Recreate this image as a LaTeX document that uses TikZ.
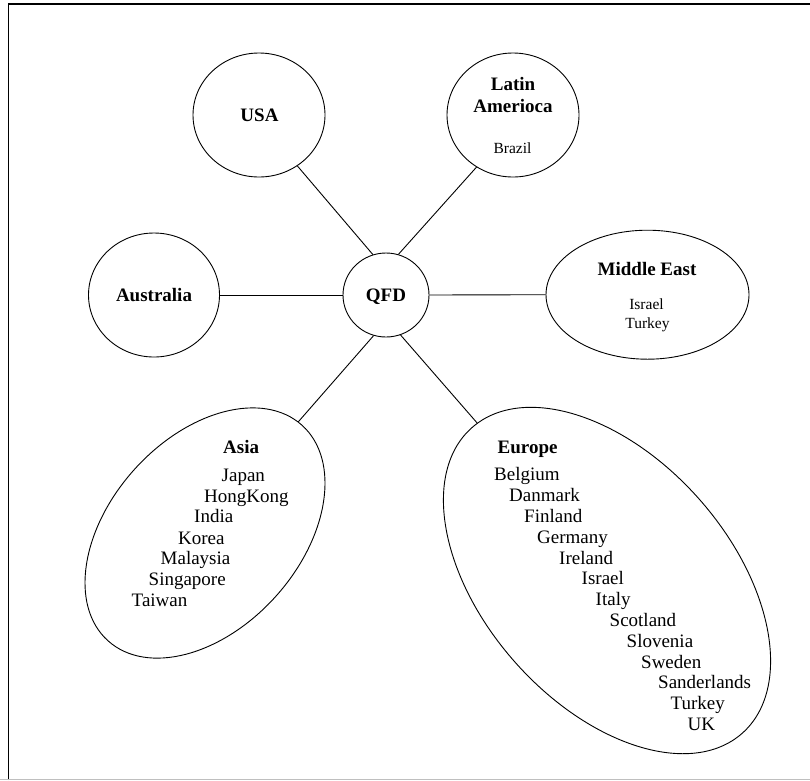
\documentclass[tikz,border=0pt]{standalone}
\usepackage{fontspec}
\setmainfont{Liberation Serif}
\usetikzlibrary{shapes.geometric}
\begin{document}
\begin{tikzpicture}[x=1pt,y=-1pt,
  region/.style={draw, ellipse, line width=0.9pt, inner sep=0pt},
  link/.style={draw, line width=0.9pt},
  head/.style={font=\fontsize{19}{21}\selectfont\bfseries, inner sep=0pt},
  item/.style={font=\fontsize{19}{21}\selectfont, inner sep=0pt, anchor=base west},
  minor/.style={font=\fontsize{15.5}{18}\selectfont, inner sep=0pt, anchor=base},
]
\useasboundingbox (0,0) rectangle (810,780);

% page frame
\draw[line width=1.5pt] (8.5,780) -- (8.5,4) -- (810,4);
\draw[black!25, line width=0.8pt] (0,779.4) -- (810,779.4);

% regions
\node[region, minimum width=86pt, minimum height=84pt] (qfd) at (386,295) {};
\node[region, minimum width=132pt, minimum height=124pt] (usa) at (259,115) {};
\node[region, minimum width=132pt, minimum height=124pt] (latin) at (513,115) {};
\node[region, minimum width=131pt, minimum height=124pt] (aus) at (154,295) {};
\node[region, minimum width=203pt, minimum height=129pt] (mideast) at (647.5,294.7) {};
\node[region, minimum width=290pt, minimum height=190pt, rotate=48] (asia) at (205,533) {};
\node[region, minimum width=408pt, minimum height=246pt, rotate=-48.5] (europe) at (607,580.5) {};

% connectors
\draw[link] (usa.-53.5) -- (qfd.108);
\draw[link] (latin.-125.8) -- (qfd.73.7);
\draw[link] (aus.east) -- (qfd.west);
\draw[link] (qfd.east) -- (mideast.west);
\draw[link] (qfd.-107) -- (asia.2);
\draw[link] (qfd.-70) -- (europe.178);

% labels
\node[head, anchor=base] (qfd-t) at (386,301) {QFD};
\node[head, anchor=base] (usa-t) at (259.5,121) {USA};
\node[head, anchor=base] (latin-t1) at (513,90) {Latin};
\node[head, anchor=base] (latin-t2) at (513,112.7) {Amerioca};
\node[minor] (brazil) at (512.5,153.3) {Brazil};
\node[head, anchor=base] (aus-t) at (154,301.5) {Australia};
\node[head, anchor=base] (me-t) at (647,275) {Middle East};
\node[minor] (me-israel) at (646.5,309.3) {Israel};
\node[minor] (me-turkey) at (647.5,328) {Turkey};

% Asia list
\node[head, anchor=base west] (asia-t) at (223,453.3) {Asia};
\node[item] (a1) at (221.5,481) {Japan};
\node[item] (a2) at (204,502.3) {HongKong};
\node[item] (a3) at (194,522.7) {India};
\node[item] (a4) at (178,544) {Korea};
\node[item] (a5) at (160.5,564.3) {Malaysia};
\node[item] (a6) at (148.5,585) {Singapore};
\node[item] (a7) at (131.5,606) {Taiwan};

% Europe list
\node[head, anchor=base west] (europe-t) at (497.5,453.3) {Europe};
\node[item] (e1) at (494,480.7) {Belgium};
\node[item] (e2) at (509,501.7) {Danmark};
\node[item] (e3) at (524,522.3) {Finland};
\node[item] (e4) at (537,543.3) {Germany};
\node[item] (e5) at (559,564) {Ireland};
\node[item] (e6) at (581.5,584.7) {Israel};
\node[item] (e7) at (595.5,605.7) {Italy};
\node[item] (e8) at (609.5,626.7) {Scotland};
\node[item] (e9) at (626.5,647.7) {Slovenia};
\node[item] (e10) at (641,668) {Sweden};
\node[item] (e11) at (658,688.7) {Sanderlands};
\node[item] (e12) at (670.5,709.3) {Turkey};
\node[item] (e13) at (687.5,730.7) {UK};
\end{tikzpicture}
\end{document}
